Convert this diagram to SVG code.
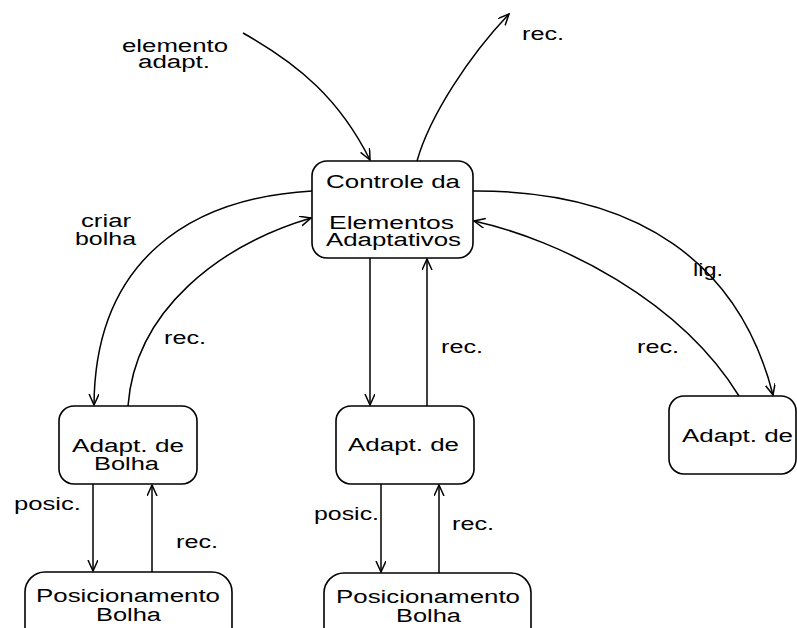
<svg xmlns="http://www.w3.org/2000/svg" width="797" height="628" viewBox="0 0 797 628">
  <defs>
    <marker id="arrow" markerUnits="userSpaceOnUse" markerWidth="14" markerHeight="12" refX="11" refY="5" orient="auto">
      <path d="M0,0 L11,5 L0,10" fill="none" stroke="#000" stroke-width="1.5"/>
    </marker>
    <style>
      rect.node { fill: #fff; stroke: #000; stroke-width: 1.6; }
      text { font-family: "Liberation Sans", Arial, sans-serif; font-size: 18px; fill: #000; }
      #connectors path { fill: none; stroke: #000; stroke-width: 1.5; marker-end: url(#arrow); }
      #connectors path.plain { marker-end: none; }
    </style>
  </defs>
  <rect width="797" height="628" fill="#fff"/>

  <g id="connectors">
    <!-- incoming element -->
    <path d="M243,33 C300,65 340,100 370,160"/>
    <!-- rec. out of the controller -->
    <path d="M417,161 C430,115 470,55 509,14"/>
    <!-- criar bolha -->
    <path d="M312,191 C190,198 95,260 94,405"/>
    <!-- rec. from Adapt. de Bolha -->
    <path d="M128,406 C135,310 220,245 311,218"/>
    <!-- middle pair -->
    <path d="M370,258 L370,405"/>
    <path d="M427,406 L427,259"/>
    <!-- lig. -->
    <path d="M473,191 C640,190 740,265 773,395"/>
    <!-- rec. from right adapter -->
    <path d="M739,396 C680,300 560,240 474,221"/>
    <!-- left lower pair -->
    <path d="M93,484 L93,571"/>
    <path d="M152,572 L152,485"/>
    <!-- middle lower pair -->
    <path d="M381,484 L381,572"/>
    <path d="M439,573 L439,485"/>
  </g>

  <g id="labels">
    <text x="122" y="52" textLength="106" lengthAdjust="spacingAndGlyphs">elemento</text>
    <text x="138" y="68" textLength="72" lengthAdjust="spacingAndGlyphs">adapt.</text>
    <text x="522" y="40" textLength="42" lengthAdjust="spacingAndGlyphs">rec.</text>
    <text x="81" y="227" textLength="50" lengthAdjust="spacingAndGlyphs">criar</text>
    <text x="75" y="245" textLength="61" lengthAdjust="spacingAndGlyphs">bolha</text>
    <text x="164" y="344" textLength="42" lengthAdjust="spacingAndGlyphs">rec.</text>
    <text x="441" y="353" textLength="42" lengthAdjust="spacingAndGlyphs">rec.</text>
    <text x="637" y="353" textLength="42" lengthAdjust="spacingAndGlyphs">rec.</text>
    <text x="693" y="276" textLength="30" lengthAdjust="spacingAndGlyphs">lig.</text>
    <text x="14" y="510" textLength="67" lengthAdjust="spacingAndGlyphs">posic.</text>
    <text x="176" y="548" textLength="42" lengthAdjust="spacingAndGlyphs">rec.</text>
    <text x="314" y="520" textLength="65" lengthAdjust="spacingAndGlyphs">posic.</text>
    <text x="452" y="530" textLength="42" lengthAdjust="spacingAndGlyphs">rec.</text>
  </g>

  <g id="controle">
    <rect class="node" x="312" y="161" width="161" height="97" rx="15"/>
    <text x="326" y="188" textLength="134" lengthAdjust="spacingAndGlyphs">Controle da</text>
    <text x="329" y="229" textLength="125" lengthAdjust="spacingAndGlyphs">Elementos</text>
    <text x="326" y="246" textLength="135" lengthAdjust="spacingAndGlyphs">Adaptativos</text>
  </g>

  <g id="adapt-bolha">
    <rect class="node" x="59" y="406" width="138" height="78" rx="15"/>
    <text x="72" y="452" textLength="112" lengthAdjust="spacingAndGlyphs">Adapt. de</text>
    <text x="94" y="470" textLength="65" lengthAdjust="spacingAndGlyphs">Bolha</text>
  </g>

  <g id="adapt-meio">
    <rect class="node" x="336" y="406" width="138" height="78" rx="15"/>
    <text x="348" y="451" textLength="111" lengthAdjust="spacingAndGlyphs">Adapt. de</text>
  </g>

  <g id="adapt-direita">
    <rect class="node" x="669" y="396" width="127" height="78" rx="15"/>
    <text x="682" y="442" textLength="111" lengthAdjust="spacingAndGlyphs">Adapt. de</text>
  </g>

  <g id="posic-esquerda">
    <rect class="node" x="25" y="572" width="207" height="80" rx="20"/>
    <text x="36" y="602" textLength="184" lengthAdjust="spacingAndGlyphs">Posicionamento</text>
    <text x="96" y="621" textLength="65" lengthAdjust="spacingAndGlyphs">Bolha</text>
  </g>

  <g id="posic-meio">
    <rect class="node" x="324" y="573" width="207" height="80" rx="20"/>
    <text x="336" y="603" textLength="184" lengthAdjust="spacingAndGlyphs">Posicionamento</text>
    <text x="396" y="622" textLength="65" lengthAdjust="spacingAndGlyphs">Bolha</text>
  </g>
</svg>
